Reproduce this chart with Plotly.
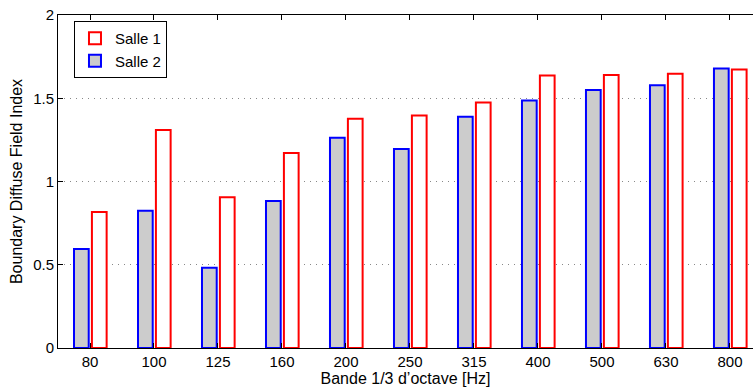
import plotly.graph_objects as go

bands = ["80", "100", "125", "160", "200", "250", "315", "400", "500", "630", "800"]
salle1 = [0.817, 1.309, 0.905, 1.171, 1.377, 1.397, 1.475, 1.636, 1.640, 1.647, 1.672]
salle2 = [0.595, 0.825, 0.482, 0.883, 1.263, 1.195, 1.389, 1.487, 1.550, 1.578, 1.678]

x_idx = list(range(len(bands)))

fig = go.Figure()
fig.add_trace(go.Bar(
    x=x_idx, y=salle2, name="Salle 2", width=0.23, offset=-0.25,
    marker=dict(color="#cccccc", line=dict(color="#0000ff", width=2)),
    legendrank=2,
))
fig.add_trace(go.Bar(
    x=x_idx, y=salle1, name="Salle 1", width=0.23, offset=0.03,
    marker=dict(color="#ffffff", line=dict(color="#ff0000", width=2)),
    legendrank=1,
))

font = dict(family="Liberation Sans, Arial, Helvetica, sans-serif", size=15, color="#000000")

fig.update_layout(
    width=753, height=390,
    margin=dict(l=58, r=0, t=15, b=42),
    paper_bgcolor="white", plot_bgcolor="white",
    barmode="overlay",
    font=font,
    showlegend=True,
    legend=dict(
        x=0.023, y=0.982, xanchor="left", yanchor="top",
        bgcolor="white", bordercolor="black", borderwidth=1,
        font=dict(size=15), traceorder="normal",
        tracegroupgap=0, itemsizing="constant", itemwidth=30,
    ),
    xaxis=dict(
        tickmode="array", tickvals=x_idx, ticktext=bands,
        range=[-0.5, 10.36], automargin=False,
        showline=True, linecolor="black", linewidth=1,
        mirror="allticks", ticks="inside", ticklen=5, tickcolor="black",
        showgrid=False, zeroline=False,
        title=dict(text="Bande 1/3 d\u2019octave [Hz]", standoff=1, font=dict(size=16)),
    ),
    yaxis=dict(
        range=[0, 2], tickvals=[0, 0.5, 1, 1.5, 2], ticktext=["0", "0.5", "1", "1.5", "2"],
        automargin=False,
        showline=True, linecolor="black", linewidth=1, mirror=False,
        ticks="inside", ticklen=5, tickcolor="black",
        showgrid=True, gridcolor="#888888", gridwidth=1, griddash="1px,5px",
        zeroline=False,
        title=dict(text="Boundary Diffuse Field Index", standoff=6, font=dict(size=16)),
    ),
)

fig.write_html("out.html", config={"displayModeBar": False},
               post_script="document.body.style.margin='0';")
